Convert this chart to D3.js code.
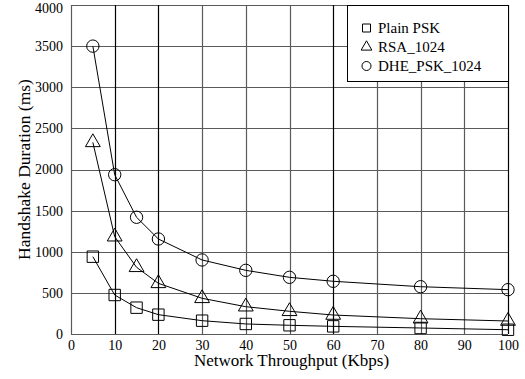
<!DOCTYPE html>
<html><head><meta charset="utf-8"><script src="https://cdn.jsdelivr.net/npm/d3@7"></script></head>
<body style="margin:0">
<svg id="chart" width="525" height="379"></svg>
<script>
// data
var throughput = [5, 10, 15, 20, 30, 40, 50, 60, 80, 100];
var plainPsk   = [940, 474, 320, 235, 162, 122, 106, 93, 73, 52];
var rsa1024    = [2330, 1183, 811, 616, 434, 332, 276, 231, 186, 158];
var dhePsk1024 = [3500, 1937, 1419, 1155, 900, 774, 689, 641, 575, 539];
var seriesNames = ["Plain PSK", "RSA_1024", "DHE_PSK_1024"];
var xTicks = [0, 10, 20, 30, 40, 50, 60, 70, 80, 90, 100];
var yTicks = [0, 500, 1000, 1500, 2000, 2500, 3000, 3500, 4000];

var serifFont = "'Liberation Serif'";
var margin = {left: 71, right: 17, top: 5, bottom: 45};
var width = 525 - margin.left - margin.right,
    height = 379 - margin.top - margin.bottom;

var svg = d3.select("#chart");
var g = svg.append("g").attr("transform", "translate(" + margin.left + "," + margin.top + ")");

var x = d3.scaleLinear().domain([0, 100]).range([0, width]);
var y = d3.scaleLinear().domain([0, 4000]).range([height, 0]);

// grid
g.selectAll(".hgrid").data(yTicks).enter().append("line")
    .attr("x1", 0).attr("x2", width)
    .attr("y1", d => Math.round(y(d)) + 0.5).attr("y2", d => Math.round(y(d)) + 0.5)
    .attr("stroke", "#5a5a5a").attr("stroke-width", 1.2);

var darkX = [10, 20, 60, 100];
g.selectAll(".vgrid").data(xTicks).enter().append("line")
    .attr("y1", 0).attr("y2", height)
    .attr("x1", d => Math.round(x(d)) + 0.5).attr("x2", d => Math.round(x(d)) + 0.5)
    .attr("stroke", d => darkX.indexOf(d) >= 0 ? "#000" : "#5a5a5a")
    .attr("stroke-width", 1.2);

// axes (labels only)
var xAxis = d3.axisBottom(x).tickValues(xTicks).tickSize(0).tickPadding(6).tickFormat(d3.format("d"));
var gx = g.append("g").attr("transform", "translate(0," + height + ")").call(xAxis);
gx.attr("font-family", null);
gx.select(".domain").remove();
gx.selectAll("text").attr("fill", "#000")
    .style("font-family", serifFont).style("font-size", "14px");

var yAxis = d3.axisLeft(y).tickValues(yTicks).tickSize(0).tickPadding(8).tickFormat(d3.format("d"));
var gy = g.append("g").call(yAxis);
gy.attr("font-family", null);
gy.select(".domain").remove();
gy.selectAll("text").attr("fill", "#000")
    .attr("dy", d => d === 4000 ? "0.55em" : "0.32em")
    .style("font-family", serifFont).style("font-size", "14px");

// axis titles
svg.append("text").attr("x", margin.left + width / 2 + 2).attr("y", 366)
    .attr("text-anchor", "middle")
    .style("font-family", serifFont).style("font-size", "17px")
    .text("Network Throughput (Kbps)");
svg.append("text").attr("transform", "translate(30," + (margin.top + height / 2) + ") rotate(-90)")
    .attr("text-anchor", "middle")
    .style("font-family", serifFont).style("font-size", "17.5px")
    .text("Handshake Duration (ms)");

// series
var seriesData = [plainPsk, rsa1024, dhePsk1024];
var shapes = [d3.symbolSquare, d3.symbolTriangle, d3.symbolCircle];
var sizes = [130, 95, 120];

var line = d3.line()
    .x((d, i) => x(throughput[i]))
    .y(d => y(d));

seriesData.forEach(function (vals, s) {
    g.append("path").datum(vals)
        .attr("d", line)
        .attr("fill", "none").attr("stroke", "#000").attr("stroke-width", 1);
    g.selectAll(".m" + s).data(vals).enter().append("path")
        .attr("transform", (d, i) => "translate(" + x(throughput[i]) + "," + y(d) + ")")
        .attr("d", d3.symbol().type(shapes[s]).size(sizes[s]))
        .attr("fill", "none").attr("stroke", "#000").attr("stroke-width", 1);
});

// legend
var lg = g.append("g").attr("transform", "translate(" + (x(100) - 161) + ",0)");
lg.append("rect").attr("x", 0.5).attr("y", 0.5).attr("width", 161).attr("height", 76)
    .attr("fill", "#fff").attr("stroke", "#000").attr("stroke-width", 1);
seriesNames.forEach(function (name, s) {
    var ry = 23 + s * 19;
    lg.append("path")
        .attr("transform", "translate(19.5," + ry + ")")
        .attr("d", d3.symbol().type(shapes[s]).size([64, 50, 64][s]))
        .attr("fill", "none").attr("stroke", "#000").attr("stroke-width", 1);
    lg.append("text").attr("x", 31).attr("y", ry + 5)
        .style("font-family", serifFont).style("font-size", "15px").text(name);
});
</script></body></html>
